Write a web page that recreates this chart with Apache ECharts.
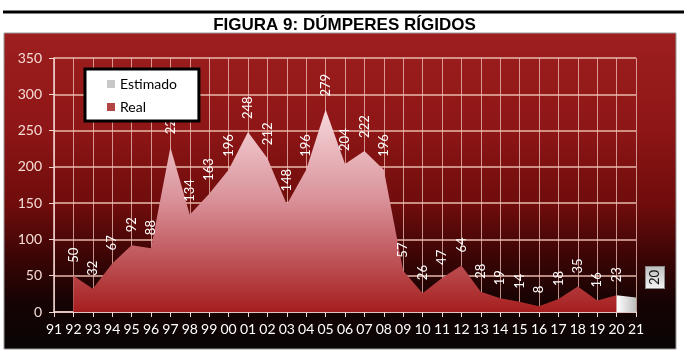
<!DOCTYPE html>
<html><head><meta charset="utf-8">
<script src="https://cdn.jsdelivr.net/npm/echarts@6/dist/echarts.min.js"></script>
<style>html,body{margin:0;padding:0;background:#fff}#c{width:689px;height:357px}</style>
</head><body><div id="c"></div>
<script>
const titleText = 'FIGURA 9: DÚMPERES RÍGIDOS';
const categories = ['91','92','93','94','95','96','97','98','99','00','01','02','03','04','05','06','07','08','09','10','11','12','13','14','15','16','17','18','19','20','21'];
const realValues = [null,50,32,67,92,88,227,134,163,196,248,212,148,196,279,204,222,196,57,26,47,64,28,19,14,8,18,35,16,23,null];
const estimatedValues = [null,null,null,null,null,null,null,null,null,null,null,null,null,null,null,null,null,null,null,null,null,null,null,null,null,null,null,null,null,23,20];
const yTicks = {min:0, max:350, interval:50};

const G = echarts.graphic.LinearGradient;
const chart = echarts.init(document.getElementById('c'));
const font = 'Lato, "Open Sans", sans-serif';

const estData = estimatedValues.map((v,i)=> i === estimatedValues.length-1 && v!=null ? {
  value:v,
  label:{show:true, formatter:'{c}', rotate:90, position:'inside', offset:[20,19],
    color:'#111', fontSize:13, fontFamily:font, padding:[3,3,2,3],
    backgroundColor:new G(0,0,1,0,[{offset:0,color:'#f4f4f4'},{offset:1,color:'#bdbdbd'}]),
    borderColor:'#8a8a8a', borderWidth:1}
} : v);

chart.setOption({
  animation:false,
  title:{text:titleText, left:'center', top:12,
    textStyle:{fontFamily:'"Liberation Sans Narrow", "Liberation Sans", Arial, sans-serif', fontWeight:'bold', fontSize:17, color:'#000'}},
  graphic:[
    {type:'line', shape:{x1:3,y1:12,x2:684,y2:12}, style:{stroke:'#000', lineWidth:3}, z:-10},
    {type:'rect', shape:{x:4,y:33,width:672,height:316}, z:-10,
      style:{stroke:'#9a9a9a', lineWidth:1,
        fill:new G(0,0,0,1,[{offset:0,color:'#9e1f1f'},{offset:0.3,color:'#8e1616'},{offset:0.55,color:'#6e0c0c'},{offset:0.7,color:'#3e0505'},{offset:0.85,color:'#160303'},{offset:1,color:'#0a0505'}])}}
  ],
  legend:{orient:'vertical', left:85, top:69,
    backgroundColor:'#fff', borderColor:'#000', borderWidth:3, borderRadius:0,
    padding:[8,22,7,22], itemGap:9, itemWidth:8, itemHeight:8, icon:'rect',
    textStyle:{fontFamily:font, fontSize:14, color:'#000'},
    data:[{name:'Estimado', itemStyle:{color:'#c8c8c8'}},{name:'Real', itemStyle:{color:'#b54545'}}]},
  grid:{left:54, right:53, top:58, bottom:45},
  xAxis:{type:'category', data:categories, boundaryGap:false,
    axisLine:{lineStyle:{color:'#f2d6d2', width:1.5}},
    axisTick:{show:true, length:5, lineStyle:{color:'#f2d6d2'}},
    axisLabel:{color:'#ffffff', fontSize:14, fontFamily:font, margin:10, interval:0},
    splitLine:{show:true, lineStyle:{color:'rgba(240,195,185,0.75)', width:1}}},
  yAxis:{type:'value', min:yTicks.min, max:yTicks.max, interval:yTicks.interval,
    axisLine:{show:true, lineStyle:{color:'#f2d6d2', width:1.5}},
    axisTick:{show:true, length:5, lineStyle:{color:'#f2d6d2'}},
    axisLabel:{color:'#f6ddd6', fontSize:14, fontFamily:font, margin:12},
    splitLine:{lineStyle:{color:'#e9b8aa', width:1.5}}},
  series:[
    {name:'Estimado', type:'line', data:estData, symbol:'circle', symbolSize:0,
      lineStyle:{width:0}, itemStyle:{color:'#c8c8c8'},
      areaStyle:{opacity:1, color:new G(0,0,1,0,[{offset:0,color:'#ffffff'},{offset:1,color:'#bdbdbd'}])},
      label:{show:false}, z:3},
    {name:'Real', type:'line', data:realValues, symbol:'circle', symbolSize:0,
      lineStyle:{width:0}, itemStyle:{color:'#b54545'},
      areaStyle:{opacity:1, color:new G(0,0,0,1,[{offset:0,color:'#f6d8dc'},{offset:0.45,color:'#d99098'},{offset:1,color:'#a61e1e'}])},
      label:{show:true, position:'top', rotate:90, align:'left', verticalAlign:'middle', distance:13,
        color:'#ffffff', fontSize:13, fontFamily:font}, z:2}
  ]
});
</script></body></html>
